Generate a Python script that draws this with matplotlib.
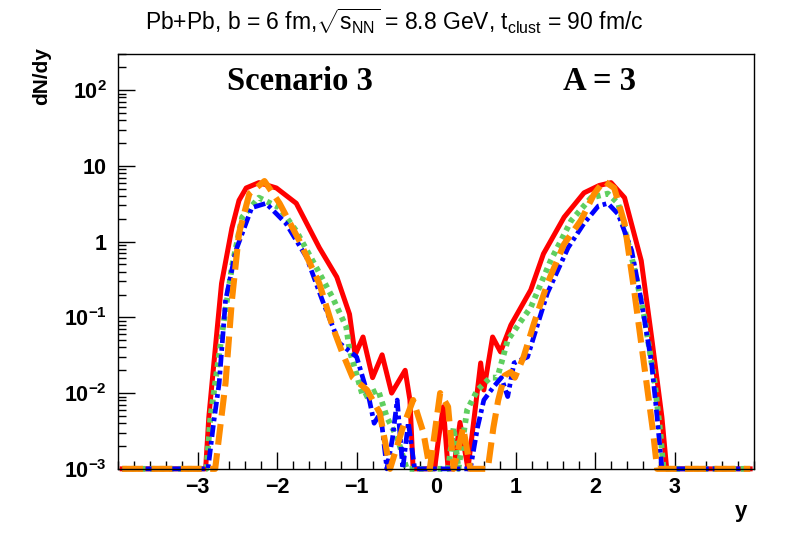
import numpy as np
import matplotlib
matplotlib.use("Agg")
import matplotlib.pyplot as plt
from matplotlib.ticker import FixedLocator, LogLocator, NullFormatter, MultipleLocator

plt.rcParams["font.family"] = ["Liberation Sans", "DejaVu Sans"]
plt.rcParams["mathtext.fontset"] = "custom"
plt.rcParams["mathtext.rm"] = "Liberation Sans"
plt.rcParams["mathtext.it"] = "Liberation Sans"
plt.rcParams["mathtext.bf"] = "Liberation Sans:bold"

# dN/dy of A=3 clusters vs rapidity (0 = empty bin)
red_x = [-3.95, -2.90, -2.86, -2.82, -2.76, -2.70, -2.57, -2.48, -2.39, -2.23, -2.01, -1.76,
         -1.47, -1.25, -1.09, -1.02, -0.92, -0.80, -0.68, -0.56, -0.39, -0.33, -0.29, -0.02,
         0.03, 0.09, 0.15, 0.22, 0.30, 0.40, 0.49, 0.56, 0.60, 0.71, 0.81, 0.94, 1.19, 1.35,
         1.61, 1.86, 2.05, 2.20, 2.37, 2.58, 2.71, 2.84, 2.90, 3.95]
red_v = [0, 0, 0.0048, 0.0135, 0.062, 0.28, 1.5, 3.5, 5.1, 6.0, 5.1, 3.2,
         0.83, 0.34, 0.11, 0.032, 0.055, 0.016, 0.032, 0.010, 0.020, 0.0081, 0, 0,
         0.0025, 0.0066, 0, 0, 0.0041, 0, 0.0060, 0.025, 0.011, 0.055, 0.035, 0.079, 0.23, 0.69,
         2.1, 4.4, 5.5, 6.0, 3.8, 0.56, 0.055, 0.0048, 0, 0]

green_x = [-3.95, -2.89, -2.84, -2.70, -2.57, -2.44, -2.23, -1.97, -1.76, -1.51, -1.30, -1.13,
           -1.09, -0.92, -0.73, -0.62, -0.49, -0.37, 0.15, 0.22, 0.28, 0.39, 0.52, 0.68,
           0.77, 0.90, 1.10, 1.19, 1.44, 1.70, 1.95, 2.16, 2.29, 2.49, 2.62, 2.75, 2.82,
           2.86, 3.95]
green_v = [0, 0, 0.0048, 0.055, 0.46, 2.1, 3.8, 2.8, 1.38, 0.46, 0.18, 0.074,
           0.037, 0.0089, 0.011, 0.0048, 0.0026, 0, 0, 0.0035, 0, 0.0060, 0.011, 0.016,
           0.016, 0.050, 0.10, 0.135, 0.56, 1.9, 3.8, 4.3, 3.2, 0.46, 0.10, 0.0135, 0.003,
           0, 0]

blue_x = [-3.95, -2.87, -2.80, -2.73, -2.65, -2.52, -2.32, -2.14, -1.89, -1.63, -1.43, -1.22,
          -1.00, -0.84, -0.78, -0.70, -0.62, -0.55, -0.49, -0.42, -0.35, -0.27, 0.43, 0.52,
          0.60, 0.72, 0.82, 0.90, 0.98, 1.15, 1.28, 1.40, 1.66, 1.86, 2.04, 2.16, 2.29,
          2.46, 2.58, 2.71, 2.78, 2.84, 3.95]
blue_v = [0, 0, 0.004, 0.0135, 0.166, 0.76, 2.8, 3.2, 1.74, 0.62, 0.166, 0.046,
          0.030, 0.0081, 0.004, 0.0055, 0, 0.0025, 0.0081, 0, 0.0041, 0, 0, 0.0035,
          0.0081, 0.012, 0.016, 0.009, 0.025, 0.030, 0.083, 0.21, 0.83, 1.74, 2.95, 3.2, 2.3,
          0.76, 0.166, 0.025, 0.0048, 0, 0]

orange_x = [-3.95, -2.78, -2.65, -2.57, -2.48, -2.35, -2.16, -1.97, -1.72, -1.47, -1.30, -1.18,
            -1.05, -0.87, -0.71, -0.58, -0.42, -0.29, -0.16, -0.08, 0.05, 0.15, 0.22, 0.34,
            0.43, 0.65, 0.72, 0.78, 0.86, 0.94, 0.99, 1.10, 1.23, 1.40, 1.61, 1.82, 1.99,
            2.11, 2.24, 2.37, 2.49, 2.62, 2.73, 2.78, 3.95]
orange_v = [0, 0, 0.0135, 0.166, 1.29, 4.3, 6.3, 3.2, 1.02, 0.28, 0.074, 0.034,
            0.016, 0.011, 0.0055, 0, 0.0035, 0.0081, 0.003, 0, 0.010, 0.0066, 0, 0.0035,
            0, 0, 0.0035, 0.008, 0.017, 0.019, 0.016, 0.030, 0.083, 0.28, 0.93, 1.9, 4.3,
            6.3, 5.1, 1.74, 0.23, 0.022, 0.003, 0, 0]

y_floor = 1e-3

fig = plt.figure(figsize=(7.88, 5.34), dpi=100)
ax = fig.add_axes([0.150, 0.122, 0.807, 0.777])


def draw(x, v, **kw):
    # empty bins sit on the bottom of the log axis, as in ROOT
    ax.plot(x, np.maximum(np.array(v, dtype=float), y_floor), clip_on=False,
            solid_joinstyle="round", **kw)


draw(red_x, red_v, color="#ff0000", lw=3.6, ls="-")
draw(green_x, green_v, color="#5fcf5f", lw=4.2, ls=(0, (0.8, 0.8)))
draw(blue_x, blue_v, color="#0000ff", lw=3.4, ls=(0, (2.5, 0.85, 0.8, 0.85)))
draw(orange_x, orange_v, color="#ff8c00", lw=4.4, ls=(0, (3.4, 1.4)))

ax.set_yscale("log")
ax.set_xlim(-4, 4)
ax.set_ylim(1e-3, 300)

ax.xaxis.set_major_locator(MultipleLocator(1))
ax.xaxis.set_minor_locator(MultipleLocator(0.2))
xlabels = {-3: "\u22123", -2: "\u22122", -1: "\u22121", 0: "0", 1: "1", 2: "2", 3: "3"}
ax.set_xticks(list(xlabels.keys()))
ax.set_xticklabels(list(xlabels.values()), fontweight="bold", fontsize=15.5)

ydec = [1e-3, 1e-2, 1e-1, 1, 10, 100]
ylab = [r"$\mathbf{10^{-3}}$", r"$\mathbf{10^{-2}}$", r"$\mathbf{10^{-1}}$",
        r"$\mathbf{1}$", r"$\mathbf{10}$", r"$\mathbf{10^{2}}$"]
ax.yaxis.set_major_locator(FixedLocator(ydec))
ax.set_yticklabels(ylab, fontsize=15.5)
ax.yaxis.set_minor_locator(LogLocator(base=10, subs=np.arange(2, 10)))
ax.yaxis.set_minor_formatter(NullFormatter())

ax.tick_params(which="both", direction="in", top=False, right=False, width=1)
ax.tick_params(which="major", length=12, pad=8)
ax.tick_params(which="minor", length=6)
ax.tick_params(axis="x", which="major", pad=6)
for s in ax.spines.values():
    s.set_linewidth(1)

ax.text(0.286, 0.933, "Scenario 3", transform=ax.transAxes, ha="center", va="center",
        family="Liberation Serif", fontweight="bold", fontsize=23.5)
ax.text(0.757, 0.933, "A = 3", transform=ax.transAxes, ha="center", va="center",
        family="Liberation Serif", fontweight="bold", fontsize=23.5)

fig.text(0.5, 0.96, r"Pb+Pb, b = 6 fm,$\sqrt{s_{\mathrm{NN}}}$ = 8.8 GeV, t$_{\mathrm{clust}}$ = 90 fm/c",
         ha="center", va="center", fontsize=16.5)
fig.text(0.053, 0.912, "dN/dy", rotation=90, ha="center", va="top",
         fontweight="bold", fontsize=15)
fig.text(0.940, 0.042, "y", ha="center", va="center", fontweight="bold", fontsize=16)

fig.savefig("out.png", dpi=100)
